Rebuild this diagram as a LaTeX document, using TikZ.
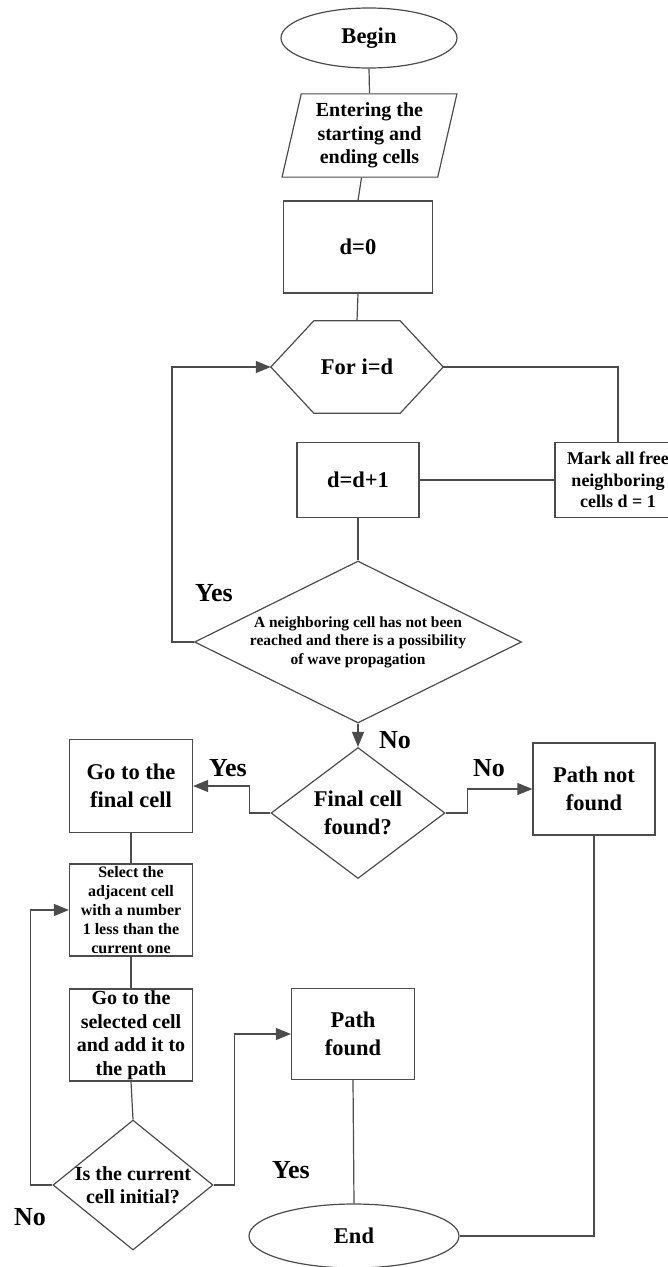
\documentclass[tikz,border=0pt]{standalone}
\usepackage{fontspec}
\setmainfont{Liberation Serif}
\usetikzlibrary{arrows.meta, shapes.geometric, calc}

\begin{document}
\begin{tikzpicture}[
    x=1pt, y=-1pt,
    font=\bfseries,
    fbig/.style={font=\bfseries\fontsize{22.5}{28}\selectfont},
    fmed/.style={font=\bfseries\fontsize{20}{23.5}\selectfont},
    fsmall/.style={font=\bfseries\fontsize{18}{21.5}\selectfont},
    ftiny/.style={font=\bfseries\fontsize{16}{19}\selectfont},
    block/.style={rectangle, draw=black!70, line width=1.2pt, align=center, inner sep=2pt},
    term/.style={ellipse, draw=black!70, line width=1.2pt, inner sep=0pt, fbig},
    decide/.style={diamond, draw=black!70, line width=1.2pt, align=center, inner sep=0pt},
    io/.style={trapezium, trapezium left angle=77, trapezium right angle=103, draw=black!70, line width=1.2pt, align=center, inner sep=0pt},
    link/.style={draw=black!70, line width=1.2pt},
    flow/.style={link, -{Triangle[length=15pt, width=12pt]}},
    answer/.style={font=\bfseries\fontsize{26}{30}\selectfont}
]
    \useasboundingbox (0,0) rectangle (667,1267);

    % Start and input
    \node[term, minimum width=176pt, minimum height=60pt] (begin) at (369,38) {Begin};
    \node[io, fmed, minimum width=175pt, minimum height=71pt] (entering) at (369.5,135.5) {Entering the\\starting and\\ending cells};
    \node[block, fbig, minimum width=149pt, minimum height=92pt] (d0) at (358,247) {d=0};

    % Wave loop
    \node[fbig, minimum width=86pt, minimum height=92pt, inner sep=0pt] (fori) at (357,367) {For i=d};
    \draw[link] (fori.north west) -- (fori.north east) -- ($(fori.east)+(43,0)$) coordinate (foriE)
        -- (fori.south east) -- (fori.south west) -- ($(fori.west)+(-43,0)$) coordinate (foriW) -- cycle;
    \node[block, fbig, minimum width=122pt, minimum height=75pt] (dinc) at (358,480) {d=d+1};
    \node[block, fsmall, minimum width=126pt, minimum height=75pt, inner sep=0pt] (mark) at (618,480) {Mark all free\\neighboring\\cells d = 1};
    \node[decide, font=\bfseries\fontsize{15.5}{18.5}\selectfont, aspect=2, minimum width=327pt, minimum height=162pt] (cond) at (358,642)
        {A neighboring cell has not been\\reached and there is a possibility\\of wave propagation};

    % Result check
    \node[decide, fbig, aspect=1.33, minimum width=174pt, minimum height=131pt] (final) at (358,813) {Final cell\\found?};
    \node[block, fbig, minimum width=123pt, minimum height=93pt] (gofinal) at (131,786) {Go to the\\final cell};
    \node[block, fbig, minimum width=122pt, minimum height=92pt] (notfound) at (594,789) {Path not\\found};

    % Path restoring
    \node[block, ftiny, minimum width=123pt, minimum height=92pt, inner sep=0pt] (select) at (131,910) {Select the\\adjacent cell\\with a number\\1 less than the\\current one};
    \node[block, fmed, minimum width=123pt, minimum height=92pt, inner sep=0pt] (gosel) at (131,1035) {Go to the\\selected cell\\and add it to\\the path};
    \node[decide, fmed, aspect=1.23, inner sep=-6pt, minimum width=160pt, minimum height=130pt] (initial) at (133,1185) {Is the current\\cell initial?};
    \node[block, fbig, minimum width=123pt, minimum height=91pt] (found) at (353,1034) {Path\\found};
    \node[term, minimum width=210pt, minimum height=64pt] (end) at (354,1236) {End};

    % Connectors
    \draw[link] (begin.south) -- (entering.north);
    \draw[link] ($(entering.south)+(-8,0)$) -- (d0.north);
    \draw[link] (d0.south) -- (fori.north);
    \draw[link] (foriE) -| (mark.north);
    \draw[link] (dinc.east) -- (mark.west);
    \draw[link] (dinc.south) -- (cond.north);
    \draw[flow] (cond.west) -- ++(-22,0) |- (foriW);
    \draw[flow] (cond.south) -- (final.north);
    \draw[flow] (final.west) -- ++(-21,0) |- (gofinal.east);
    \draw[flow] (final.east) -- ++(22,0) |- (notfound.west);
    \draw[link] (gofinal.south) -- (select.north);
    \draw[link] (select.south) -- (gosel.north);
    \draw[link] (gosel.south) -- (initial.north);
    \draw[flow] (initial.west) -- ++(-22,0) |- (select.west);
    \draw[flow] (initial.east) -- ++(21,0) |- (found.west);
    \draw[link] (found.south) -- (end.north);
    \draw[link] (end.east) -| (notfound.south);

    % Branch labels
    \node[answer] (yesloop) at (214,593) {Yes};
    \node[answer] (nocond) at (395,740) {No};
    \node[answer] (yesfinal) at (228,768) {Yes};
    \node[answer] (nofinal) at (489,768) {No};
    \node[answer] (yesinit) at (291,1170) {Yes};
    \node[answer] (noinit) at (30,1217) {No};
\end{tikzpicture}
\end{document}
